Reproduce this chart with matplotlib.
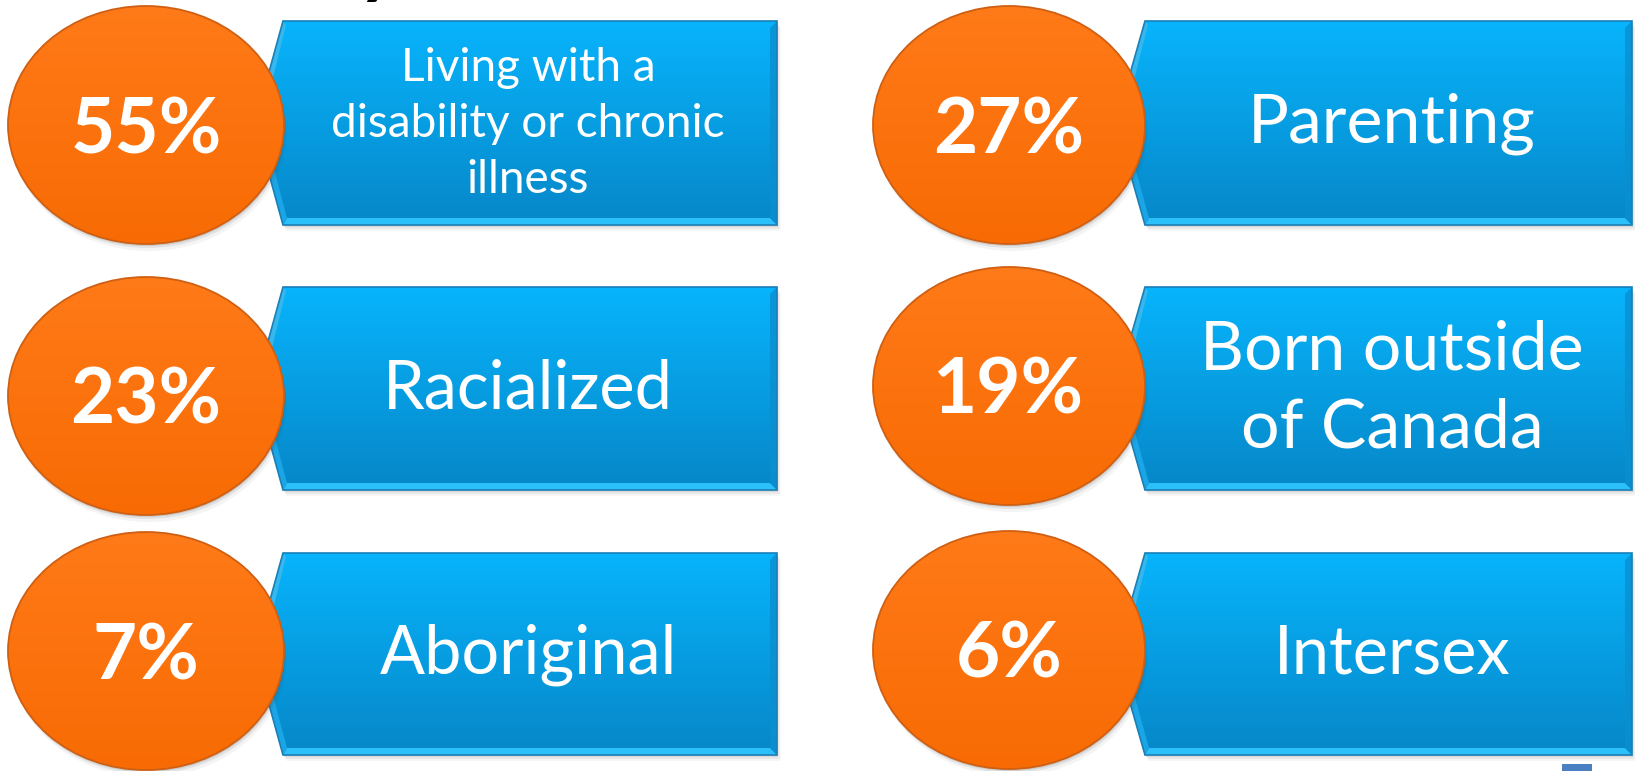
import numpy as np
import matplotlib
matplotlib.use("Agg")
import matplotlib.pyplot as plt
from matplotlib.patches import Polygon, Ellipse, Rectangle
from matplotlib.colors import to_rgb

values = [55, 23, 7, 27, 19, 6]
labels = ["Living with a\ndisability or chronic\nillness", "Racialized", "Aboriginal",
          "Parenting", "Born outside\nof Canada", "Intersex"]
label_sizes = [33, 48, 48, 49, 49, 48]
label_spacing = [1.4, 1.0, 1.0, 1.0, 1.3, 1.0]

# layout in pixels (figure is 1635 x 771)
col_ell_x = [146, 1009]
col_ell_w = [276, 272]
col_tip_x = [255, 1116]
col_corner_x = [283, 1145]
col_right_x = [777, 1632]
col_text_x = [528, 1392]
row_band = [(21, 225), (287, 490), (553, 755)]
ell_cy = [[125, 396, 651], [125, 386, 650]]
ell_h = 238

plt.rcParams['font.family'] = ['Lato', 'DejaVu Sans']

fig = plt.figure(figsize=(16.35, 7.71), dpi=100)
ax = fig.add_axes([0, 0, 1, 1])
ax.set_xlim(0, 1635)
ax.set_ylim(771, 0)
ax.axis('off')


def gradient(c_top, c_bot, n=200):
    a = np.array(to_rgb(c_top))
    b = np.array(to_rgb(c_bot))
    t = np.linspace(0, 1, n)[:, None]
    return (a * (1 - t) + b * t)[:, None, :]


# cut-off title descender at the very top
ax.text(378, -12, "y", fontsize=56, fontweight='bold', color='black',
        ha='center', va='baseline', zorder=1)

for i in range(6):
    c = i // 3
    r = i % 3
    top, bot = row_band[r]
    mid = (top + bot) / 2
    xt, xc, xr = col_tip_x[c], col_corner_x[c], col_right_x[c]

    pts = [(xt, mid), (xc, top), (xr, top), (xr, bot), (xc, bot)]
    # soft shadow
    for k, a in [(6, 0.05), (4, 0.08), (2, 0.12)]:
        sh = [(x + k * 0.6, y + k) for x, y in pts]
        ax.add_patch(Polygon(sh, closed=True, fc='#555555', ec='none', alpha=a, zorder=2))
    banner = Polygon(pts, closed=True, fc='none', ec='#1a7fb5', lw=1.2, zorder=4)
    ax.add_patch(banner)
    im = ax.imshow(gradient('#08b4fc', '#0687c8'), extent=(xt, xr, bot, top),
                   aspect='auto', origin='upper', zorder=3, interpolation='bilinear')
    im.set_clip_path(banner)
    # bevels
    bv = 7
    ax.add_patch(Polygon([(xc, bot), (xr, bot), (xr - bv, bot - bv), (xc + 4, bot - bv)],
                         closed=True, fc='#2cc0fb', ec='none', zorder=3.5))
    ax.add_patch(Polygon([(xr, top), (xr, bot), (xr - bv, bot - bv), (xr - bv, top + bv)],
                         closed=True, fc='#0a8fd0', ec='none', alpha=0.8, zorder=3.5))
    ax.add_patch(Polygon([(xt, mid), (xc, bot), (xc + 4, bot - bv), (xt + bv, mid)],
                         closed=True, fc='#1aa6e6', ec='none', zorder=3.5))
    ax.add_patch(Polygon([(xt, mid), (xc, top), (xc + 3, top + 4), (xt + bv, mid)],
                         closed=True, fc='#36b8ee', ec='none', zorder=3.5))
    ax.text(col_text_x[c], mid + 1, labels[i], color='white', fontsize=label_sizes[i],
            ha='center', va='center', linespacing=label_spacing[i], zorder=6)

    # orange oval
    cx, cy, w = col_ell_x[c], ell_cy[c][r], col_ell_w[c]
    for k, a in [(7, 0.06), (4, 0.1), (2, 0.15)]:
        ax.add_patch(Ellipse((cx + k * 0.4, cy + k), w, ell_h, fc='#444444', ec='none',
                             alpha=a, zorder=4.5))
    ell = Ellipse((cx, cy), w, ell_h, fc='none', ec='#cf5f12', lw=1.3, zorder=5.5)
    ax.add_patch(ell)
    im2 = ax.imshow(gradient('#ff7a18', '#f86b04'), extent=(cx - w / 2, cx + w / 2, cy + ell_h / 2, cy - ell_h / 2),
                    aspect='auto', origin='upper', zorder=5, interpolation='bilinear')
    im2.set_clip_path(ell)
    ax.text(cx, cy + 6, f"{values[i]}%", color='white', fontsize=55, fontweight='bold',
            ha='center', va='center', zorder=6)

# small square at bottom right
ax.add_patch(Rectangle((1562, 764), 30, 8, fc='#4a80c2', ec='none', zorder=7))

ax.set_xlim(0, 1635)
ax.set_ylim(771, 0)
fig.savefig("out.png", dpi=100)
